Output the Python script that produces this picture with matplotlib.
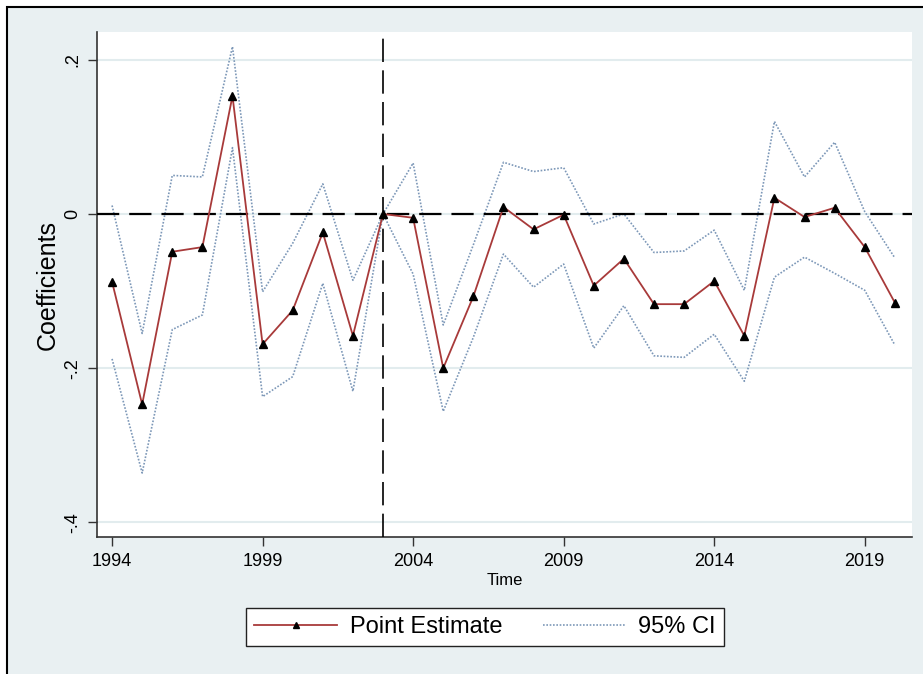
import matplotlib.pyplot as plt
from matplotlib.patches import Rectangle
from matplotlib.lines import Line2D

plt.rcParams['font.family'] = ['Liberation Sans', 'DejaVu Sans']

# event-study coefficients by year, with 95% confidence bounds
years = list(range(1994, 2021))
estimate = [-0.088, -0.247, -0.049, -0.043, 0.153, -0.169, -0.125, -0.024, -0.158,
            0.000, -0.005, -0.200, -0.107, 0.009, -0.020, -0.001, -0.093, -0.058,
            -0.117, -0.117, -0.087, -0.158, 0.021, -0.004, 0.008, -0.043, -0.115]
ci_upper = [0.011, -0.155, 0.050, 0.048, 0.217, -0.101, -0.038, 0.039, -0.086,
            0.000, 0.066, -0.144, -0.040, 0.067, 0.055, 0.060, -0.013, 0.000,
            -0.050, -0.048, -0.021, -0.099, 0.120, 0.048, 0.093, 0.003, -0.057]
ci_lower = [-0.188, -0.336, -0.150, -0.131, 0.086, -0.237, -0.211, -0.090, -0.230,
            0.000, -0.078, -0.256, -0.160, -0.052, -0.095, -0.065, -0.174, -0.119,
            -0.184, -0.186, -0.156, -0.217, -0.082, -0.056, -0.077, -0.099, -0.170]
event_year = 2003

yticks = [-0.4, -0.2, 0, 0.2]
ytick_labels = ['-.4', '-.2', '0', '.2']
xticks = [1994, 1999, 2004, 2009, 2014, 2019]

W, H = 923, 674
fig = plt.figure(figsize=(W / 100, H / 100), dpi=100, facecolor='white')

# graph region background with black outline
bg = Rectangle((7 / W, -0.05), 1.2, 1 - 7 / H + 0.05, transform=fig.transFigure,
               facecolor='#e9f0f2', edgecolor='black', lw=1.5, zorder=-1)
fig.patches.append(bg)

ax = fig.add_axes([97 / W, (H - 537) / H, (912 - 97) / W, (537 - 32) / H])
ax.set_facecolor('white')

ci_color = '#7d98b8'
est_color = '#a83a3a'
ax.plot(years, ci_upper, color=ci_color, ls=(0, (1, 1)), lw=1.2, zorder=2)
ax.plot(years, ci_lower, color=ci_color, ls=(0, (1, 1)), lw=1.2, zorder=2)
ax.axhline(0, color='black', ls=(0, (10, 4.5)), lw=1.6, zorder=3)
ax.axvline(event_year, color='black', ls=(0, (14, 5)), lw=1.2, zorder=3)
ax.plot(years, estimate, color=est_color, lw=1.3, marker='^', ms=6,
        mfc='black', mec='black', zorder=4)

ax.set_xlim(1993.5, 2020.57)
ax.set_ylim(-0.419, 0.236)
ax.set_xticks(xticks)
ax.set_yticks(yticks)
ax.set_yticklabels(ytick_labels)
ax.yaxis.grid(True, color='#e2ecee', lw=1.5, zorder=1)
ax.set_axisbelow(True)

for side in ['top', 'right']:
    ax.spines[side].set_visible(False)
for side in ['left', 'bottom']:
    ax.spines[side].set_color('#333333')
    ax.spines[side].set_linewidth(1.2)

ax.tick_params(axis='both', direction='out', length=6.5, width=1.0,
               color='#333333', labelsize=13, pad=5)
for lbl in ax.get_yticklabels():
    lbl.set_rotation(90)
    lbl.set_va('center')

ax.set_ylabel('Coefficients', fontsize=18, labelpad=3)
ax.set_xlabel('Time', fontsize=12, labelpad=2)

handles = [
    Line2D([], [], color=est_color, lw=1.3, marker='^', ms=5, mfc='black', mec='black'),
    Line2D([], [], color=ci_color, ls=(0, (1, 1)), lw=1.2),
]
leg = fig.legend(handles, ['Point Estimate', '95% CI'], loc='center',
                 bbox_to_anchor=(485 / W, 1 - 627 / H), ncol=2, fontsize=17,
                 frameon=True, fancybox=False, edgecolor='#222222',
                 facecolor='white', framealpha=1,
                 handlelength=3.5, handletextpad=0.55, columnspacing=1.7,
                 borderpad=0.35, borderaxespad=0)
leg.get_frame().set_linewidth(1.0)

fig.savefig('out.png', dpi=100, facecolor=fig.get_facecolor())
